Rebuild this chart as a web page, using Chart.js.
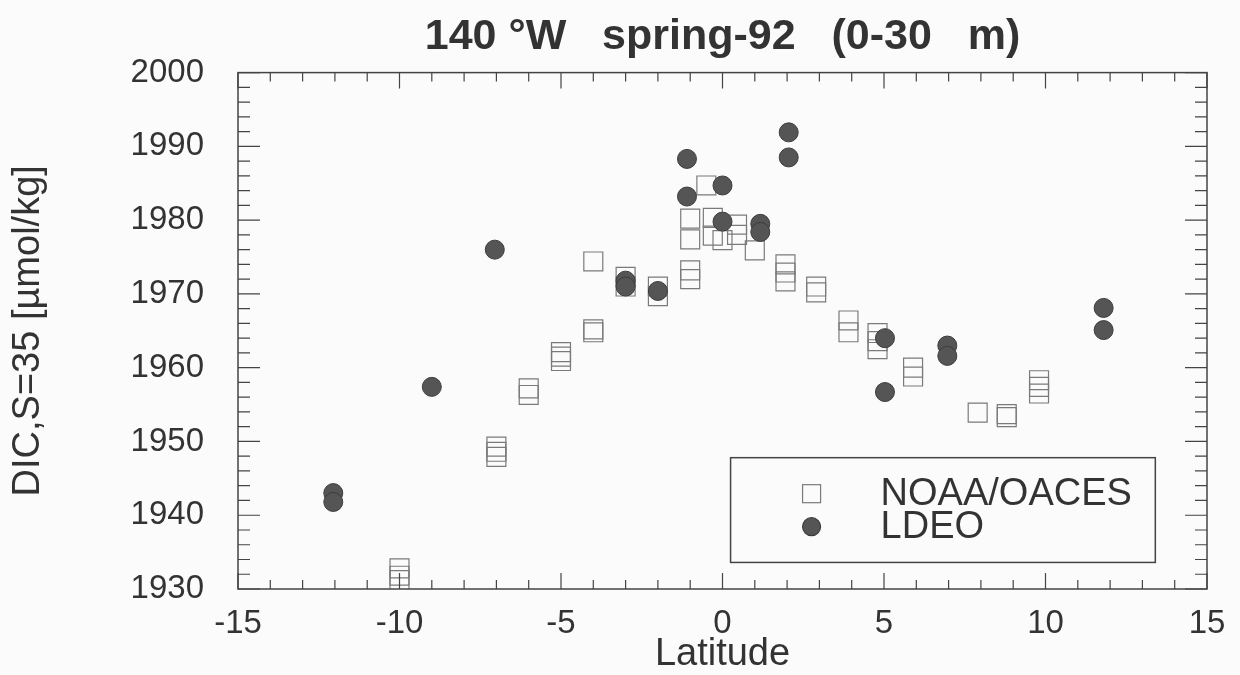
<!DOCTYPE html>
<html>
<head>
<meta charset="utf-8">
<script src="https://cdn.jsdelivr.net/npm/chart.js@4.4.1/dist/chart.umd.min.js"></script>
<style>
  html, body { margin: 0; padding: 0; background: #fbfbfb; }
  #wrap { width: 1240px; height: 675px; }
</style>
</head>
<body>
<div id="wrap"><canvas id="dicChart" width="1240" height="675"></canvas></div>
<script>
// NOAA/OACES open squares (latitude, DIC normalised to S=35)
const noaaLat = [-10, -10, -10, -7, -7, -7, -6, -6, -5, -5, -5, -4, -4, -4,
  -3, -3, -2, -2, -1, -1, -1, -1, -0.5, -0.3, -0.3, 0, 0.45, 0.45, 1,
  1.95, 1.95, 1.95, 2.9, 2.9, 3.9, 3.9, 4.8, 4.8, 4.8, 5.9, 5.9, 7.9,
  8.8, 8.8, 9.8, 9.8, 9.8];
const noaaDic = [1932.8, 1931.8, 1931.2, 1949.3, 1948.6, 1947.9, 1957.2, 1956.3,
  1962.1, 1961.5, 1960.9, 1965.2, 1964.8, 1974.4, 1972.3, 1971.0, 1971.0, 1969.7,
  1980.2, 1977.4, 1973.2, 1972.0, 1984.7, 1980.3, 1977.9, 1977.3, 1979.4, 1978.0,
  1975.9, 1974.0, 1972.9, 1971.7, 1971.0, 1970.2, 1966.4, 1964.8, 1964.7, 1963.6,
  1962.5, 1960.0, 1958.8, 1953.9, 1953.7, 1953.3, 1958.3, 1957.4, 1956.5];

// LDEO filled circles
const ldeoLat = [-12.05, -12.05, -9, -7.05, -3, -3, -2, -1.1, -1.1, 0, 0,
  1.17, 1.17, 2.05, 2.05, 5.03, 5.03, 6.96, 6.96, 11.8, 11.8];
const ldeoDic = [1943.0, 1941.8, 1957.4, 1976.0, 1971.8, 1971.0, 1970.4, 1988.3,
  1983.2, 1984.7, 1979.8, 1979.5, 1978.4, 1991.9, 1988.5, 1964.0, 1956.7, 1963.0,
  1961.6, 1968.1, 1965.1];

const xTicks = [-15, -10, -5, 0, 5, 10, 15];
const yTicks = [1930, 1940, 1950, 1960, 1970, 1980, 1990, 2000];

function toPoints(xs, ys) {
    return xs.map((x, i) => ({ x: x, y: ys[i] }));
}

const textColor = '#333';
const fontName = '"Liberation Sans", Arial, sans-serif';

// Draw the box round the plot and the inward tick marks on all four sides
const frameTicks = {
    id: 'frameTicks',
    afterDatasetsDraw(chart) {
        const ctx = chart.ctx;
        const a = chart.chartArea;
        const xs = chart.scales.x;
        const ys = chart.scales.y;
        ctx.save();
        ctx.strokeStyle = '#444';
        ctx.lineWidth = 1.5;
        ctx.strokeRect(a.left, a.top, a.right - a.left, a.bottom - a.top);
        ctx.lineWidth = 1.2;
        ctx.beginPath();
        for (let v = -15; v <= 15; v++) {
            const px = xs.getPixelForValue(v);
            const len = v % 5 === 0 ? 16 : 9;
            ctx.moveTo(px, a.bottom); ctx.lineTo(px, a.bottom - len);
            ctx.moveTo(px, a.top); ctx.lineTo(px, a.top + len);
        }
        for (let v = 1930; v <= 2000; v += 2) {
            const py = ys.getPixelForValue(v);
            const len = v % 10 === 0 ? 22 : 12;
            ctx.moveTo(a.left, py); ctx.lineTo(a.left + len, py);
            ctx.moveTo(a.right, py); ctx.lineTo(a.right - len, py);
        }
        ctx.stroke();
        ctx.restore();
    }
};

// Legend box drawn inside the plot, lower right
const boxLegend = {
    id: 'boxLegend',
    afterDraw(chart) {
        const ctx = chart.ctx;
        const xs = chart.scales.x;
        const ys = chart.scales.y;
        const left = xs.getPixelForValue(0.25);
        const right = xs.getPixelForValue(13.4);
        const top = ys.getPixelForValue(1947.8);
        const bottom = ys.getPixelForValue(1933.6);
        ctx.save();
        ctx.strokeStyle = '#444';
        ctx.lineWidth = 1.5;
        ctx.strokeRect(left, top, right - left, bottom - top);

        const mx = left + 81;
        const y1 = top + 36;
        const y2 = top + 69;
        const sq = chart.data.datasets[0];
        const ci = chart.data.datasets[1];
        ctx.strokeStyle = sq.borderColor;
        ctx.lineWidth = sq.borderWidth;
        ctx.strokeRect(mx - 9, y1 - 9, 18, 18);
        ctx.fillStyle = ci.backgroundColor;
        ctx.strokeStyle = ci.borderColor;
        ctx.beginPath();
        ctx.arc(mx, y2, 9, 0, Math.PI * 2);
        ctx.fill();
        ctx.stroke();

        ctx.fillStyle = textColor;
        ctx.font = '38px ' + fontName;
        ctx.textBaseline = 'middle';
        ctx.textAlign = 'left';
        ctx.fillText(sq.label, left + 150, y1 + 1);
        ctx.fillText(ci.label, left + 150, y2 + 1);
        ctx.restore();
    }
};

const ctx = document.getElementById('dicChart').getContext('2d');
window.dicChart = new Chart(ctx, {
    type: 'scatter',
    data: {
        datasets: [{
            label: 'NOAA/OACES',
            data: toPoints(noaaLat, noaaDic),
            pointStyle: 'rect',
            pointRadius: 13.4,
            pointHoverRadius: 13.4,
            backgroundColor: 'rgba(0,0,0,0)',
            borderColor: '#7a7a7a',
            borderWidth: 1.2,
            order: 1
        }, {
            label: 'LDEO',
            data: toPoints(ldeoLat, ldeoDic),
            pointStyle: 'circle',
            pointRadius: 9.5,
            pointHoverRadius: 9.5,
            backgroundColor: '#555',
            borderColor: '#3c3c3c',
            borderWidth: 1,
            order: 0
        }]
    },
    options: {
        responsive: false,
        animation: false,
        layout: { padding: { left: 0, right: 33, top: 0, bottom: 0 } },
        plugins: {
            legend: { display: false },
            tooltip: { enabled: false },
            title: {
                display: true,
                fullSize: false,
                text: '140 °W   spring-92   (0-30   m)',
                color: textColor,
                font: { family: fontName, size: 43, weight: 'bold' },
                padding: { top: 11, bottom: 10 }
            }
        },
        scales: {
            x: {
                type: 'linear',
                min: -15,
                max: 15,
                afterBuildTicks: s => { s.ticks = xTicks.map(v => ({ value: v })); },
                afterFit: s => { s.height = 86; },
                grid: { display: false },
                border: { display: false },
                ticks: {
                    color: textColor,
                    font: { family: fontName, size: 33 },
                    padding: 7,
                    maxRotation: 0,
                    callback: v => String(v)
                },
                title: {
                    display: true,
                    text: 'Latitude',
                    color: textColor,
                    font: { family: fontName, size: 38 },
                    padding: { top: 0, bottom: -2 }
                }
            },
            y: {
                type: 'linear',
                min: 1930,
                max: 2000,
                afterBuildTicks: s => { s.ticks = yTicks.map(v => ({ value: v })); },
                afterFit: s => { s.width = 238; },
                grid: { display: false },
                border: { display: false },
                ticks: {
                    color: textColor,
                    font: { family: fontName, size: 33 },
                    padding: 26,
                    callback: v => String(v)
                },
                title: {
                    display: true,
                    text: 'DIC,S=35 [µmol/kg]',
                    color: textColor,
                    font: { family: fontName, size: 38 },
                    padding: { top: 6, bottom: 0 }
                }
            }
        }
    },
    plugins: [frameTicks, boxLegend]
});
</script>
</body>
</html>
